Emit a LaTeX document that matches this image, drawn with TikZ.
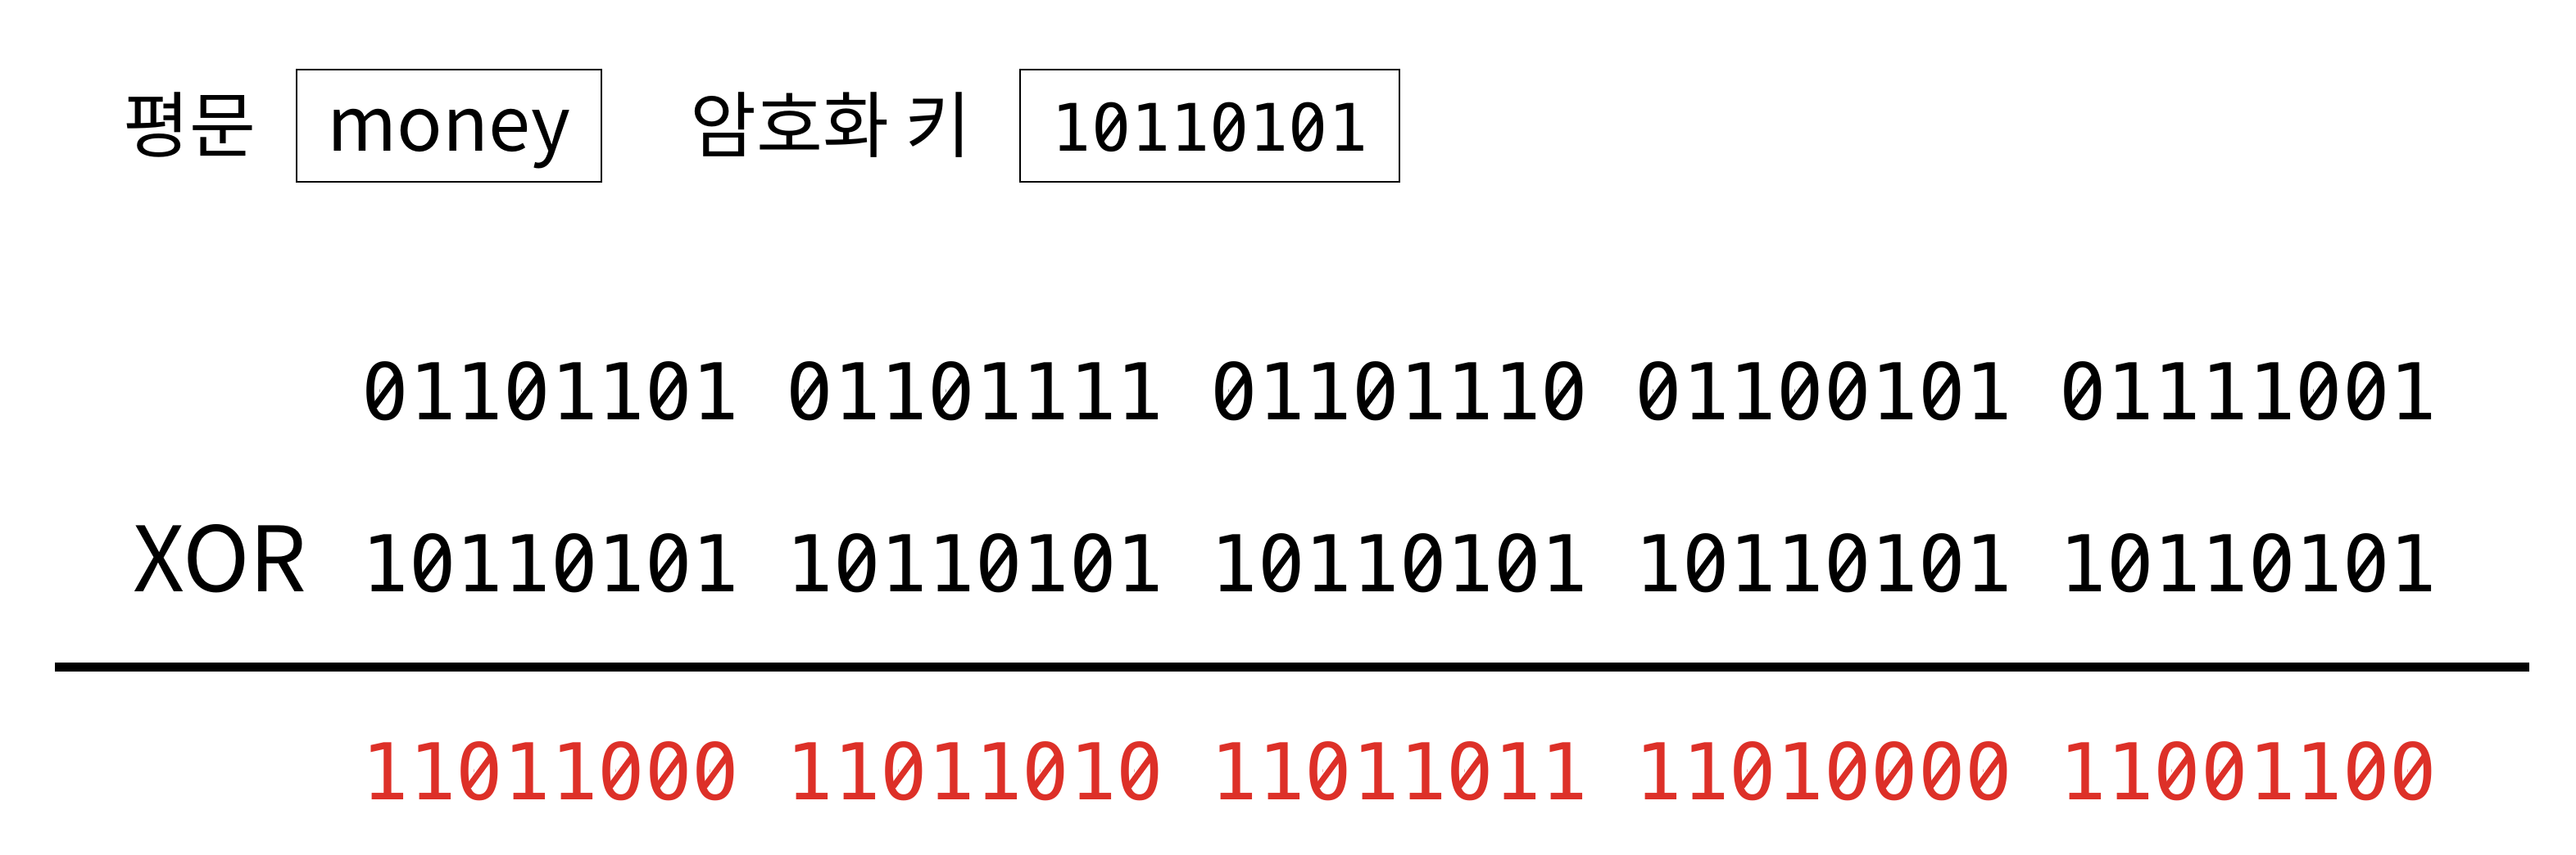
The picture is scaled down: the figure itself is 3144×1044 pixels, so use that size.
\documentclass[tikz,border=0pt]{standalone}
\usepackage{fontspec}
\usepackage{graphicx}
\setmainfont{Noto Sans CJK KR}
\newfontfamily\krfont{Noto Sans CJK KR}
\newfontfamily\xorfont{Noto Sans CJK KR}
\newfontfamily\monofont{DejaVu Sans Mono}
\definecolor{resred}{RGB}{221,48,40}
% slashed zero: DejaVu zero, its dot hidden, a slash drawn over it
\newcommand\sz{\makebox[0pt][l]{0}%
  \makebox[0pt][l]{\hspace{0.231em}\raisebox{0.245em}{\textcolor{white}{\rule{0.14em}{0.24em}}}}%
  \makebox[0pt][l]{\hspace{0.13em}\raisebox{0.175em}{\rotatebox{53.6}{\rule[-0.0375em]{0.472em}{0.075em}}}}%
  \phantom{0}}
\def\Bloop#1{\ifx\relax#1\else\ifx0#1\sz\else#1\fi\expandafter\Bloop\fi}
\def\B#1{\Bloop#1\relax}
\begin{document}
\begin{tikzpicture}[x=0.25pt,y=-0.25pt,
  lbl/.style={inner sep=0pt, anchor=base, font=\krfont\fontsize{22pt}{26pt}\selectfont},
  inbox/.style={draw, line width=0.7pt, inner sep=0pt, text height=25pt, text depth=9.25pt, align=center},
  bits/.style={inner sep=0pt, anchor=base west, font=\monofont\fontsize{23.9pt}{28pt}\selectfont},
  rule/.style={line width=2.75pt}]
\useasboundingbox (0,0) rectangle (3144,1044);

\node[lbl] (pt) at (231.5,186) {평문};
\node[inbox, minimum width=93pt, font=\krfont\fontsize{23pt}{27pt}\selectfont] (money) at (548,153.5) {money};
\node[lbl] (kl) at (1014,186) {암호화 키};
\node[inbox, minimum width=115.75pt, font=\monofont\fontsize{20pt}{24pt}\selectfont] (key) at (1476.5,153.5) {\B{10110101}};

\node[bits] (r1) at (441,513) {\B{01101101} \B{01101111} \B{01101110} \B{01100101} \B{01111001}};
\node[inner sep=0pt, anchor=base, font=\xorfont\fontsize{27.5pt}{32pt}\selectfont] (xor) at (268.5,723) {XOR};
\node[bits] (r2) at (441,723) {\B{10110101} \B{10110101} \B{10110101} \B{10110101} \B{10110101}};
\coordinate (ruleL) at (67,815);
\coordinate (ruleR) at (3087,815);
\draw[rule] (ruleL) -- (ruleR);
\node[bits, text=resred] (r3) at (441,977) {\B{11011000} \B{11011010} \B{11011011} \B{11010000} \B{11001100}};
\end{tikzpicture}
\end{document}
